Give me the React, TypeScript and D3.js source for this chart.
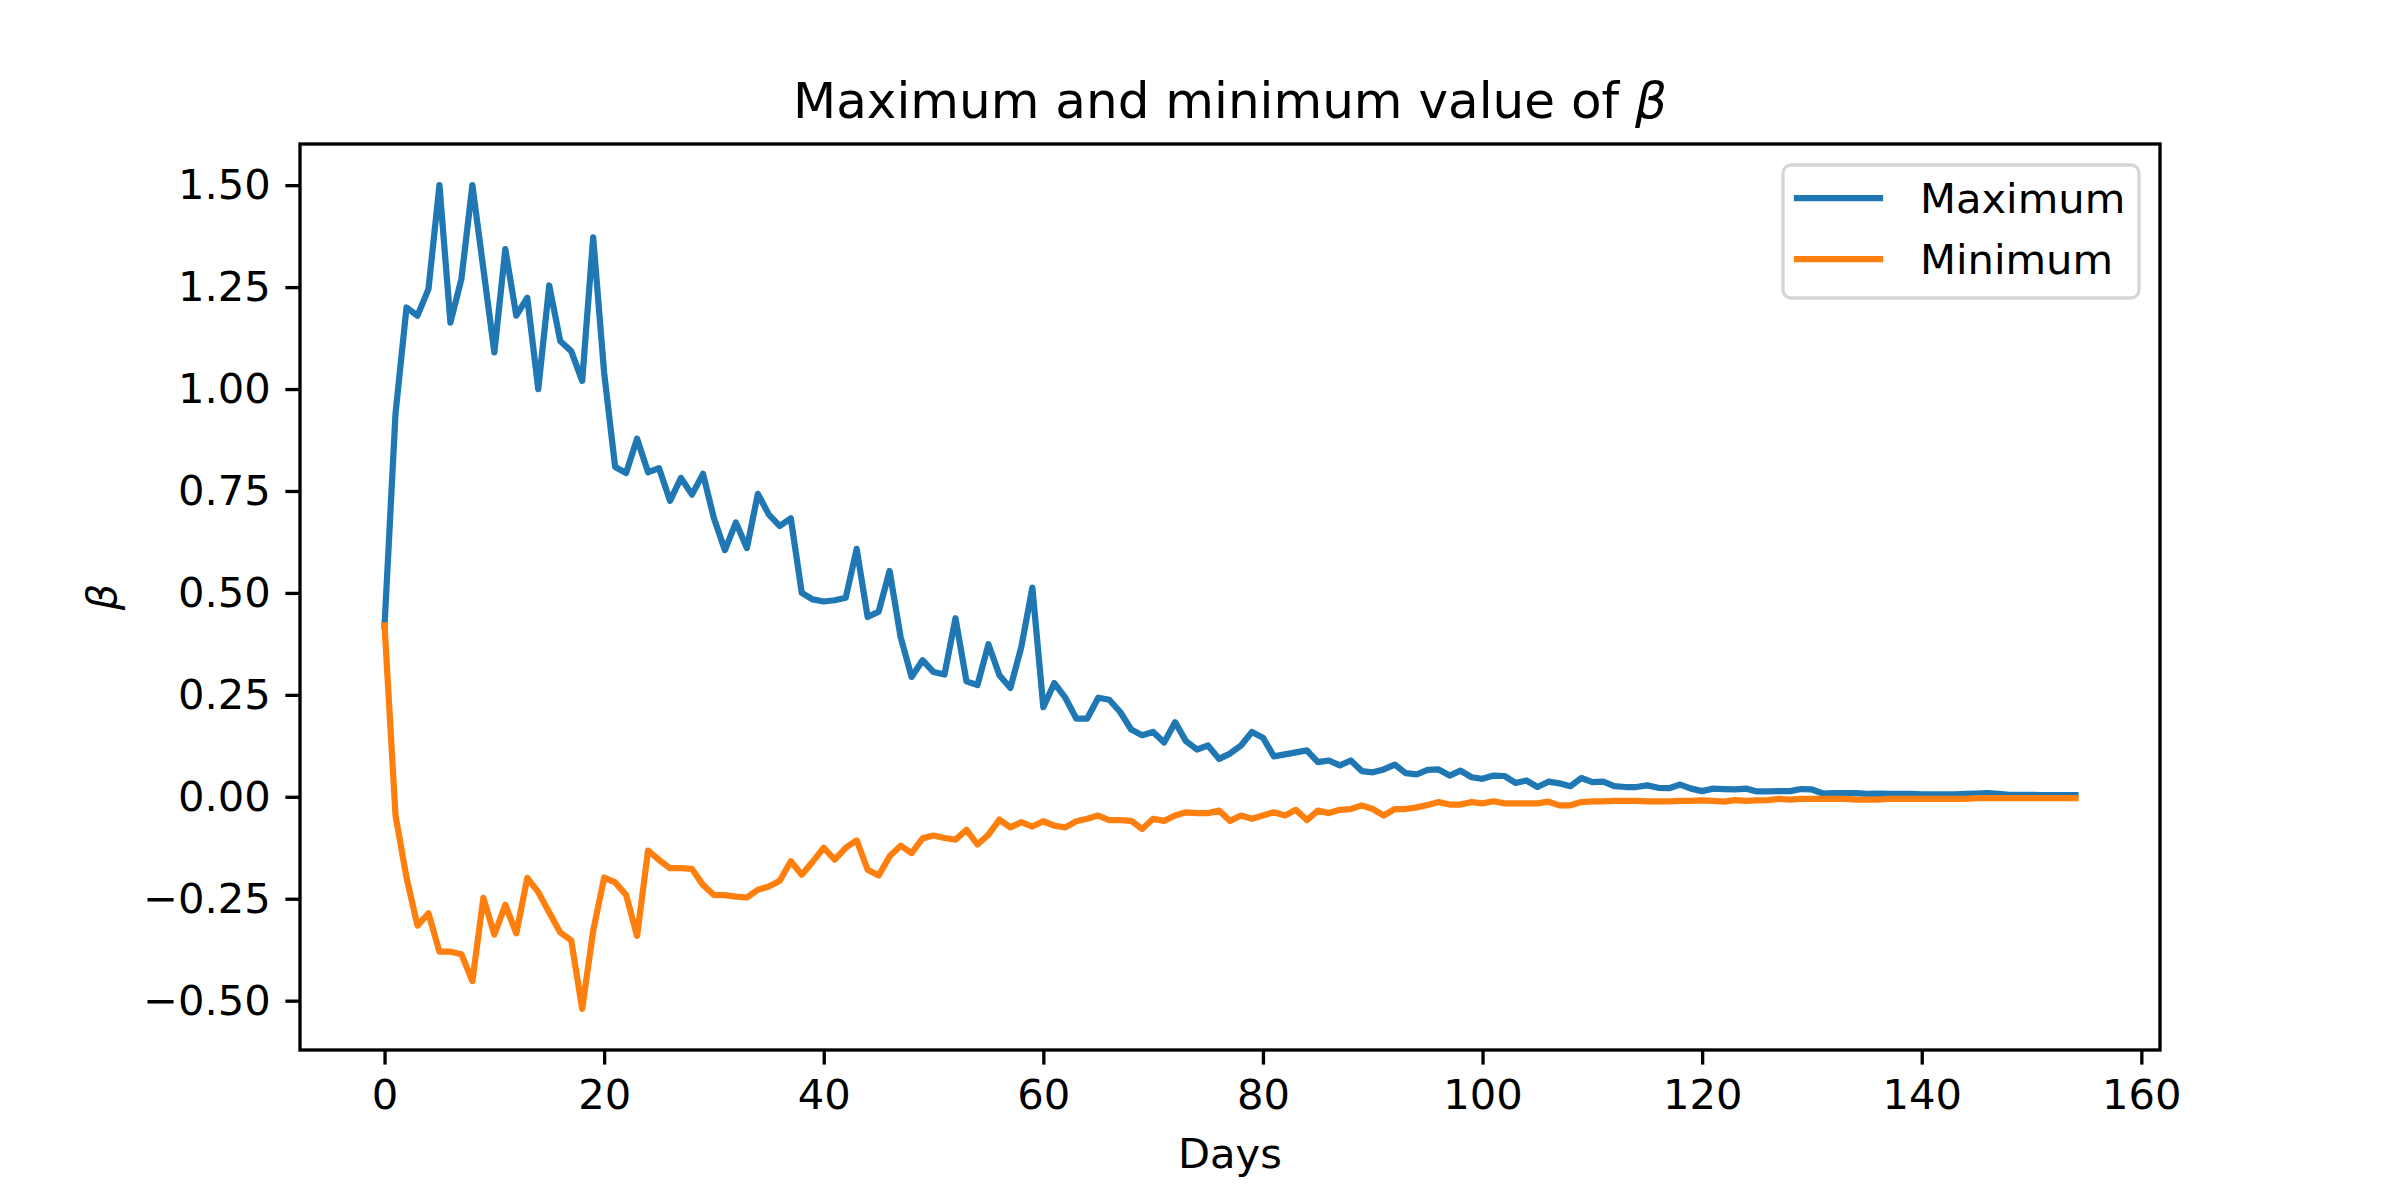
import { useRef, useEffect } from "react";
import { select, scaleLinear, axisBottom, axisLeft, line, min, max, format } from "d3";

// daily max / min of beta, days 0..154
const maxBeta = [
  0.42, 0.94, 1.2, 1.18, 1.245, 1.5, 1.163, 1.27, 1.5, 1.295,
  1.09, 1.343, 1.18, 1.224, 1.0, 1.254, 1.118, 1.093, 1.02, 1.372,
  1.04, 0.809, 0.794, 0.878, 0.796, 0.806, 0.726, 0.782, 0.741, 0.792,
  0.683, 0.605, 0.673, 0.61, 0.743, 0.692, 0.664, 0.683, 0.5, 0.484,
  0.479, 0.482, 0.488, 0.608, 0.441, 0.454, 0.554, 0.392, 0.294, 0.335,
  0.306, 0.3, 0.438, 0.283, 0.274, 0.374, 0.298, 0.267, 0.368, 0.513,
  0.22, 0.279, 0.243, 0.192, 0.192, 0.243, 0.238, 0.208, 0.165, 0.151,
  0.159, 0.133, 0.183, 0.136, 0.116, 0.126, 0.093, 0.106, 0.126, 0.159,
  0.145, 0.099, 0.104, 0.109, 0.114, 0.085, 0.089, 0.077, 0.089, 0.063,
  0.06, 0.067, 0.079, 0.058, 0.055, 0.066, 0.067, 0.052, 0.064, 0.048,
  0.044, 0.052, 0.051, 0.034, 0.04, 0.024, 0.037, 0.033, 0.026, 0.046,
  0.036, 0.037, 0.026, 0.024, 0.024, 0.028, 0.022, 0.021, 0.03, 0.02,
  0.014, 0.02, 0.019, 0.018, 0.02, 0.013, 0.013, 0.014, 0.014, 0.019,
  0.018, 0.008, 0.009, 0.009, 0.009, 0.007, 0.008, 0.007, 0.007, 0.007,
  0.006, 0.006, 0.006, 0.006, 0.007, 0.008, 0.009, 0.007, 0.005, 0.005,
  0.005, 0.004, 0.004, 0.004, 0.004,
];

const minBeta = [
  0.42, -0.046, -0.198, -0.316, -0.286, -0.38, -0.38, -0.386, -0.452, -0.248,
  -0.338, -0.265, -0.335, -0.199, -0.234, -0.284, -0.333, -0.352, -0.52, -0.329,
  -0.198, -0.21, -0.241, -0.341, -0.132, -0.155, -0.175, -0.175, -0.177, -0.216,
  -0.241, -0.241, -0.245, -0.247, -0.228, -0.22, -0.206, -0.158, -0.191, -0.159,
  -0.125, -0.154, -0.125, -0.107, -0.179, -0.193, -0.146, -0.12, -0.138, -0.102,
  -0.095, -0.101, -0.105, -0.081, -0.117, -0.093, -0.056, -0.075, -0.062, -0.073,
  -0.06, -0.071, -0.075, -0.06, -0.054, -0.046, -0.057, -0.057, -0.059, -0.079,
  -0.054, -0.059, -0.046, -0.038, -0.04, -0.04, -0.034, -0.059, -0.046, -0.054,
  -0.046, -0.038, -0.046, -0.032, -0.057, -0.034, -0.04, -0.032, -0.03, -0.021,
  -0.03, -0.046, -0.03, -0.03, -0.026, -0.02, -0.013, -0.019, -0.019, -0.013,
  -0.016, -0.011, -0.016, -0.016, -0.016, -0.016, -0.012, -0.021, -0.021, -0.013,
  -0.011, -0.011, -0.01, -0.01, -0.01, -0.011, -0.011, -0.011, -0.01, -0.01,
  -0.009, -0.01, -0.012, -0.008, -0.01, -0.009, -0.008, -0.005, -0.007, -0.005,
  -0.005, -0.005, -0.005, -0.005, -0.007, -0.007, -0.007, -0.005, -0.005, -0.005,
  -0.005, -0.005, -0.005, -0.005, -0.005, -0.003, -0.003, -0.003, -0.003, -0.003,
  -0.003, -0.003, -0.003, -0.003, -0.003,
];

const seriesNames = ["Maximum", "Minimum"];
const seriesColors = ["#1f77b4", "#ff7f0e"];
const xTicks = [0, 20, 40, 60, 80, 100, 120, 140, 160];
const yTicks = [-0.5, -0.25, 0, 0.25, 0.5, 0.75, 1.0, 1.25, 1.5];

const W = 2400;
const H = 1200;
const L = 300;
const R = 2160;
const T = 144;
const B = 1050;
const FONT = "'DejaVu Sans', sans-serif";
const FS = 41.67; // 10pt at 300dpi

export default function App() {
  const ref = useRef<SVGSVGElement | null>(null);

  useEffect(() => {
    const svg = select(ref.current!);
    svg.selectAll("*").remove();

    const n = maxBeta.length - 1;
    const x = scaleLinear().domain([-0.05 * n, n * 1.05]).range([L, R]);
    const lo = min(minBeta) as number;
    const hi = max(maxBeta) as number;
    const pad = 0.05 * (hi - lo);
    const y = scaleLinear().domain([lo - pad, hi + pad]).range([B, T]);

    svg.append("rect").attr("width", W).attr("height", H).attr("fill", "#fff");

    //axes
    const xAxis: any = axisBottom(x)
      .tickValues(xTicks)
      .tickFormat(format("d") as any)
      .tickSize(14.6)
      .tickPadding(14.6);
    const gx = svg.append("g").attr("transform", `translate(0,${B})`).call(xAxis);

    const yAxis: any = axisLeft(y)
      .tickValues(yTicks)
      .tickFormat(format(".2f") as any)
      .tickSize(14.6)
      .tickPadding(14.6);
    const gy = svg.append("g").attr("transform", `translate(${L},0)`).call(yAxis);

    [gx, gy].forEach((g) => {
      g.attr("font-size", FS).attr("font-family", FONT);
      g.select(".domain").remove();
      g.selectAll(".tick line").attr("stroke", "#000").attr("stroke-width", 3.33);
      g.selectAll(".tick text").attr("fill", "#000");
    });

    //lines
    const lineGen: any = line<number>()
      .x((d, i) => x(i))
      .y((d) => y(d));

    [maxBeta, minBeta].forEach((s, i) => {
      svg
        .append("path")
        .datum(s)
        .attr("d", lineGen)
        .attr("fill", "none")
        .attr("stroke", seriesColors[i])
        .attr("stroke-width", 6.25)
        .attr("stroke-linejoin", "round")
        .attr("stroke-linecap", "square");
    });

    //frame
    svg
      .append("rect")
      .attr("x", L)
      .attr("y", T)
      .attr("width", R - L)
      .attr("height", B - T)
      .attr("fill", "none")
      .attr("stroke", "#000")
      .attr("stroke-width", 3.33);

    //title
    const title = svg
      .append("text")
      .attr("x", (L + R) / 2)
      .attr("y", T - 26)
      .attr("text-anchor", "middle")
      .attr("font-family", FONT)
      .attr("font-size", 50)
      .text("Maximum and minimum value of ");
    title.append("tspan").attr("font-style", "italic").text("β");

    //axis labels
    svg
      .append("text")
      .attr("x", (L + R) / 2)
      .attr("y", 1168)
      .attr("text-anchor", "middle")
      .attr("font-family", FONT)
      .attr("font-size", FS)
      .text("Days");

    svg
      .append("text")
      .attr("transform", `translate(116,${(T + B) / 2}) rotate(-90)`)
      .attr("text-anchor", "middle")
      .attr("font-family", FONT)
      .attr("font-size", FS)
      .attr("font-style", "italic")
      .text("β");

    //legend
    const lg = svg.append("g").attr("transform", "translate(1783,165)");
    lg.append("rect")
      .attr("width", 356)
      .attr("height", 133)
      .attr("rx", 8)
      .attr("fill", "#fff")
      .attr("fill-opacity", 0.8)
      .attr("stroke", "#d6d6d6")
      .attr("stroke-width", 3.33);
    seriesNames.forEach((name, i) => {
      const cy = 33 + i * 61;
      lg.append("line")
        .attr("x1", 14)
        .attr("x2", 97)
        .attr("y1", cy)
        .attr("y2", cy)
        .attr("stroke", seriesColors[i])
        .attr("stroke-width", 6.25)
        .attr("stroke-linecap", "square");
      lg.append("text")
        .attr("x", 137)
        .attr("y", cy + 15)
        .attr("font-family", FONT)
        .attr("font-size", FS)
        .text(name);
    });
  }, []);

  return (
    <svg
      ref={ref}
      width={W}
      height={H}
      style={{ position: "absolute", left: 0, top: 0, display: "block" }}
    ></svg>
  );
}
